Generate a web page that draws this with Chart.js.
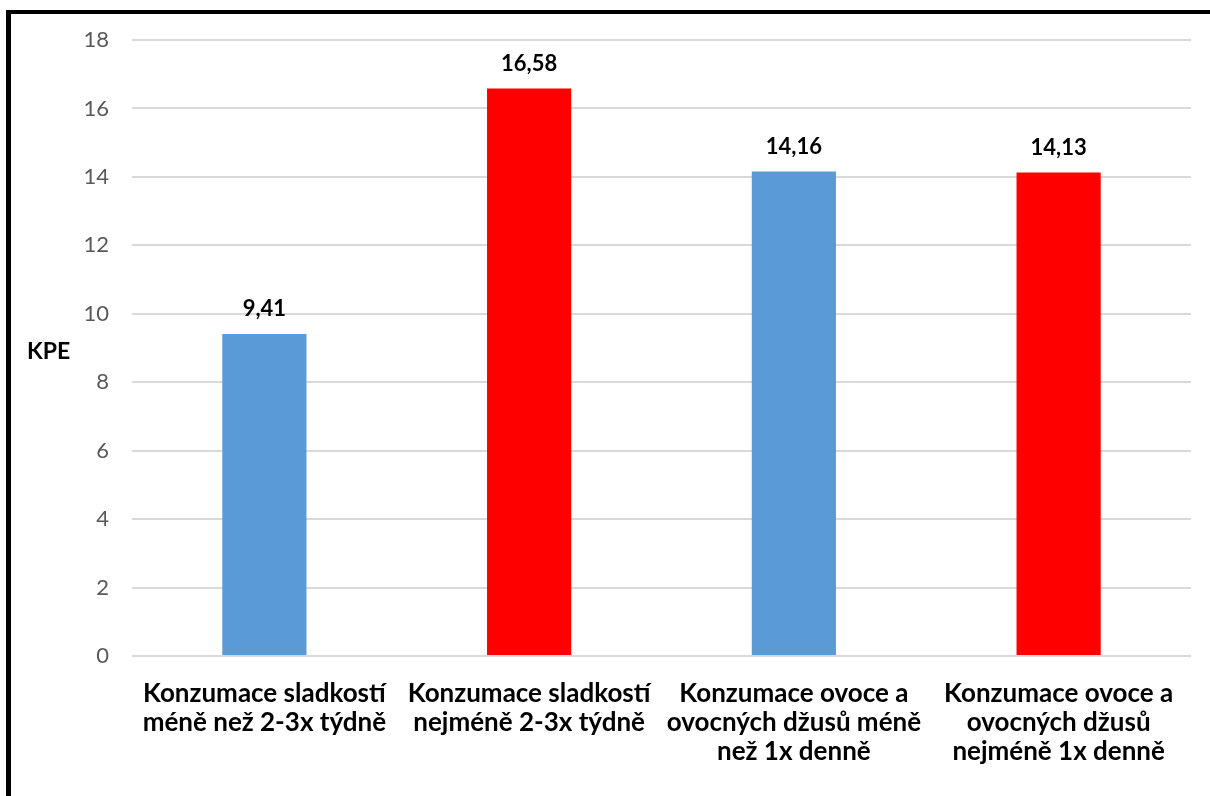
<!DOCTYPE html>
<html>
<head>
<meta charset="utf-8">
<script src="https://cdn.jsdelivr.net/npm/chart.js@4"></script>
<style>
  html, body { margin: 0; padding: 0; background: #fff; }
  #wrap { position: relative; width: 1210px; height: 796px; overflow: hidden; }
  #frame {
    position: absolute; left: 6px; top: 10px; right: 0; bottom: -10px;
    border-left: 5px solid #000; border-top: 4px solid #000;
    pointer-events: none;
  }
</style>
</head>
<body>
<div id="wrap">
  <canvas id="chart" width="1210" height="796"></canvas>
  <div id="frame"></div>
</div>
<script>
const categories = [
  ["Konzumace sladkostí", "méně než 2-3x týdně"],
  ["Konzumace sladkostí", "nejméně 2-3x týdně"],
  ["Konzumace ovoce a", "ovocných džusů méně", "než 1x denně"],
  ["Konzumace ovoce a", "ovocných džusů", "nejméně 1x denně"],
];
const values = [9.41, 16.58, 14.16, 14.13];
const barColors = ["#5B9BD5", "#FF0000", "#5B9BD5", "#FF0000"];
const yTitle = "KPE";
const yMin = 0;
const yMax = 18;
const yStep = 2;

const font = "Lato, 'Open Sans', sans-serif";

const valueLabels = {
  id: "valueLabels",
  afterDatasetsDraw(chart) {
    const { ctx } = chart;
    const meta = chart.getDatasetMeta(0);
    ctx.save();
    ctx.font = "bold 22px " + font;
    ctx.fillStyle = "#000";
    ctx.textAlign = "center";
    ctx.textBaseline = "middle";
    meta.data.forEach((bar, i) => {
      ctx.fillText(values[i].toFixed(2).replace(".", ","), bar.x, bar.y - 25);
    });
    ctx.restore();
  },
};

const yTitlePlugin = {
  id: "yTitlePlugin",
  afterDraw(chart) {
    const { ctx } = chart;
    const y = chart.scales.y;
    ctx.save();
    ctx.font = "bold 23px " + font;
    ctx.fillStyle = "#000";
    ctx.textAlign = "left";
    ctx.textBaseline = "middle";
    ctx.fillText(yTitle, 27, (y.top + y.bottom) / 2 + 4);
    ctx.restore();
  },
};

new Chart(document.getElementById("chart"), {
  type: "bar",
  data: {
    labels: categories,
    datasets: [{
      data: values,
      backgroundColor: barColors,
      categoryPercentage: 1,
      barPercentage: 0.318,
    }],
  },
  options: {
    responsive: false,
    animation: false,
    layout: { padding: { left: 0, right: 19, top: 40, bottom: 0 } },
    plugins: { legend: { display: false }, tooltip: { enabled: false } },
    scales: {
      x: {
        grid: { display: false },
        border: { display: false },
        ticks: {
          color: "#000",
          font: { family: font, size: 26, weight: "bold", lineHeight: 1.12 },
          padding: 15,
          maxRotation: 0,
          autoSkip: false,
        },
        afterFit(scale) { scale.height = 140; },
      },
      y: {
        min: yMin,
        max: yMax,
        grid: { color: "#d9d9d9", lineWidth: 2, drawTicks: false },
        border: { display: false },
        ticks: {
          stepSize: yStep,
          color: "#595959",
          font: { family: font, size: 22 },
          padding: 23,
        },
        afterFit(scale) { scale.width = 132; },
      },
    },
  },
  plugins: [valueLabels, yTitlePlugin],
});
</script>
</body>
</html>
